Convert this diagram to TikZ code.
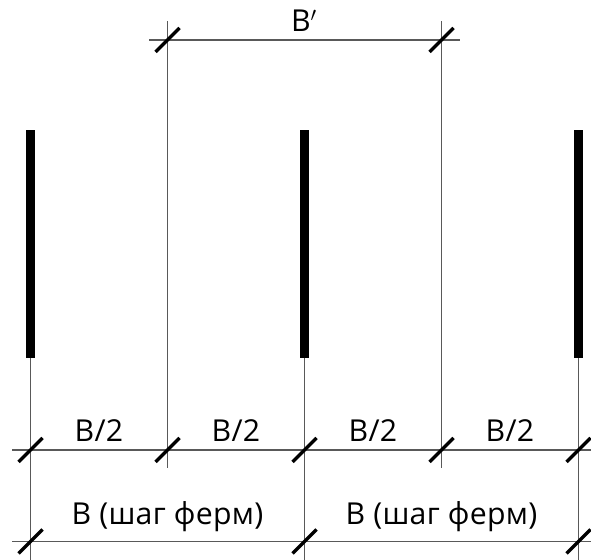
\documentclass[tikz,border=0pt]{standalone}
\usepackage{fontspec}
\setmainfont[LetterSpace=1]{Open Sans}
\tikzset{
  thin line/.style={line width=0.03cm, black!65},
  wall/.style={fill=black, draw=none},
  tick/.style={line width=0.08cm, black},
  dim label/.style={font=\fontsize{21.5}{24}\selectfont, inner sep=0pt, anchor=base}
}
\begin{document}
\begin{tikzpicture}
    \useasboundingbox (0, 0) rectangle (14.775, 14);

    % axes
    \foreach \x in {0.7625, 7.6125, 14.4625}
      \draw[thin line] (\x, 0) -- (\x, 5.2);
    \foreach \x in {4.1875, 11.0375}
      \draw[thin line] (\x, 2.3) -- (\x, 13.475);

    % walls
    \foreach \x in {0.7625, 7.6125, 14.4625}
      \fill[wall] (\x-0.115, 5.05) rectangle (\x+0.115, 10.75);

    % dimension lines
    \draw[thin line] (3.725, 13) -- (11.5, 13);
    \draw[thin line] (0.3, 2.75) -- (14.775, 2.75);
    \draw[thin line] (0.3, 0.4625) -- (14.775, 0.4625);

    % ticks
    \foreach \x/\y in {4.1875/13, 11.0375/13,
                       0.7625/2.75, 4.1875/2.75, 7.6125/2.75, 11.0375/2.75, 14.4625/2.75,
                       0.7625/0.4625, 7.6125/0.4625, 14.4625/0.4625}
      \draw[tick] (\x-0.3, \y-0.3) -- (\x+0.3, \y+0.3);

    % labels
    \node[dim label] (bprime) at (7.6, 13.2) {B$'$};
    \node[dim label] (half a) at (2.475, 2.95) {B/2};
    \node[dim label] (half b) at (5.9, 2.95) {B/2};
    \node[dim label] (half c) at (9.325, 2.95) {B/2};
    \node[dim label] (half d) at (12.75, 2.95) {B/2};
    \node[dim label] (step a) at (4.1875, 0.88) {B (шаг ферм)};
    \node[dim label] (step b) at (11.0375, 0.88) {B (шаг ферм)};
  \end{tikzpicture}
\end{document}
